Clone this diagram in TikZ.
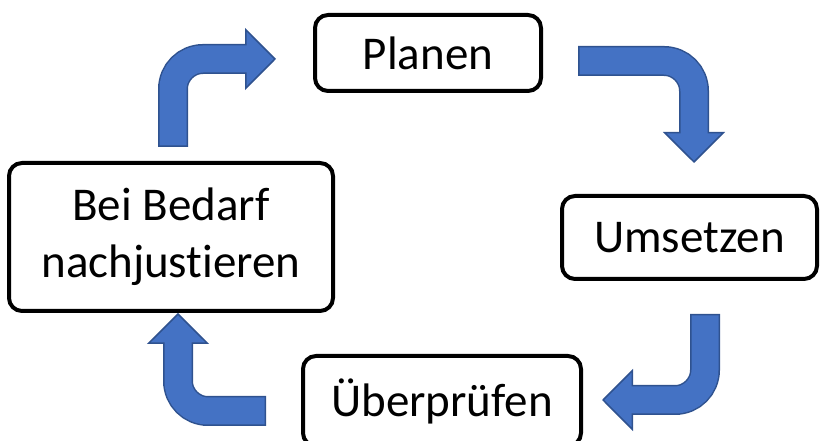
\documentclass[tikz,border=0pt]{standalone}
\usepackage{fontspec}
\setmainfont{Carlito}[Ligatures=NoCommon]
\usetikzlibrary{arrows.meta,calc}
\definecolor{arrowfill}{HTML}{4472C4}
\definecolor{arrowedge}{HTML}{2F528F}

\begin{document}
\begin{tikzpicture}[
  x=1pt, y=1pt,
  font=\fontsize{47pt}{57pt}\selectfont,
  stage/.style={draw=black, line width=4pt, rounded corners=13pt, align=center,
                inner sep=0pt, outer sep=0pt},
  bendarrow/.style={draw=arrowedge, line width=30pt, rounded corners=30pt,
                -{Triangle[length=31pt 0, width=62pt 0, line width=1.5pt, fill=arrowfill]},
                postaction={draw=arrowfill, line width=27pt, arrows=-,
                            shorten <=1.5pt, shorten >=29pt}},
]
\useasboundingbox (0,0) rectangle (825,441);
\node[stage, minimum width=226pt, minimum height=76pt]  (plan)   at (428,388)   {Planen};
\node[stage, minimum width=255pt, minimum height=83pt]  (umsetz) at (689.5,203.5) {Umsetzen};
\node[stage, minimum width=278pt, minimum height=90pt]  (pruef)  at (442,40)    {Überprüfen};
\node[stage, minimum width=324pt, minimum height=148pt] (bedarf) at (171,204)   {Bei Bedarf\\nachjustieren};
\draw[bendarrow] ([shift={(2,16)}]bedarf.north) |- ([shift={(-39,-6)}]plan.west);
\draw[bendarrow] ([shift={(37,-8)}]plan.east) -| ([shift={(4.5,33)}]umsetz.north);
\draw[bendarrow] ([shift={(15.5,-35)}]umsetz.south) |- ([shift={(21,1)}]pruef.east);
\draw[bendarrow] ([shift={(-37,-10)}]pruef.west) -| ([shift={(7,-2)}]bedarf.south);
\end{tikzpicture}
\end{document}
